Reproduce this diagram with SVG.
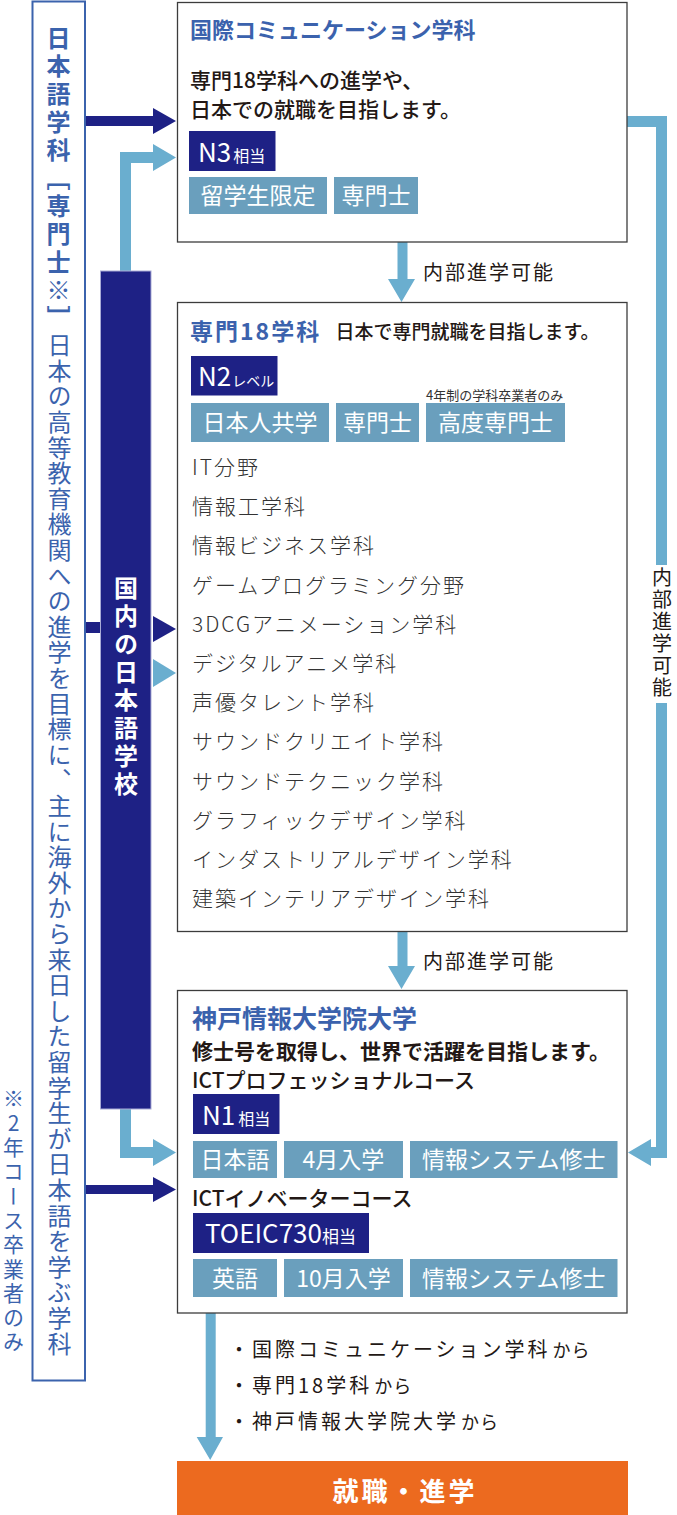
<svg xmlns="http://www.w3.org/2000/svg" width="677" height="1515" viewBox="0 0 677 1515">
<style>
text{font-family:"Noto Sans CJK JP","Noto Sans",sans-serif;}
.box{fill:#fff;stroke:#3c3c3c;stroke-width:1.3;}
.navy{fill:#1e2185;}
.tag{fill:#6a9fbd;}
.lb{fill:#6aaecf;}
.dk{fill:#1e2185;}
.wt{fill:#fff;}
.ttl{fill:#3b62ad;font-weight:bold;}
.body{fill:#231815;}
.item{fill:#333;font-size:21px;letter-spacing:2px;font-weight:300;}
.tagt{fill:#fff;font-size:23px;text-anchor:middle;}
.vert{writing-mode:vertical-rl;}
.lbl{fill:#231815;font-size:20px;letter-spacing:2px;}
</style>
<rect width="677" height="1515" fill="#fff"/>

<g id="connectors">
  <polygon class="dk" points="85,116 153,116 153,108 176,121 153,134 153,126 85,126"/>
  <polygon class="lb" points="120,271 120,152 153,152 153,144 176,157.5 153,171 153,163 131,163 131,271"/>
  <rect class="dk" x="85" y="622" width="16" height="11"/>
  <polygon class="dk" points="153,616 176,629 153,642"/>
  <polygon class="lb" points="153,659 176,673 153,687"/>
  <polygon class="lb" points="120,1109 120,1158 153,1158 153,1166 176,1152.5 153,1139 153,1147 131,1147 131,1109"/>
  <polygon class="dk" points="85,1185 153,1185 153,1177 176,1189.5 153,1202 153,1194 85,1194"/>
  <polygon class="lb" points="397.5,242 407.5,242 407.5,279 415,279 401.5,302 388,279 397.5,279"/>
  <text class="lbl" x="423" y="280">内部進学可能</text>
  <polygon class="lb" points="397.5,932 407.5,932 407.5,966 415,966 401.5,989 388,966 397.5,966"/>
  <text class="lbl" x="423" y="969">内部進学可能</text>
  <polygon class="lb" points="627,116 667,116 667,565 656,565 656,127 627,127"/>
  <polygon class="lb" points="656,703 667,703 667,1158 651,1158 651,1166 628,1152.5 651,1139 651,1147 656,1147"/>
  <text class="lbl vert" x="662" y="567">内部進学可能</text>
  <polygon class="lb" points="205.7,1313 215.7,1313 215.7,1437 223,1437 210.2,1460 196.7,1437 205.7,1437"/>
</g>

<g id="left-box">
  <rect x="32.5" y="1.5" width="52.5" height="1379" fill="#fff" stroke="#3b63ad" stroke-width="2"/>
  <text class="vert" x="58.5" y="26" fill="#3b63ad" font-size="24" font-weight="bold" letter-spacing="4">日本語学科［専門士※］</text>
  <text class="vert" x="59.5" y="333" fill="#3b63ad" font-size="24" letter-spacing="1.6">日本の高等教育機関への進学を目標に、主に海外から来日した留学生が日本語を学ぶ学科</text>
</g>

<g id="note">
  <text class="vert" x="13.5" y="1088" fill="#3b63ad" font-size="21" letter-spacing="3.3" style="text-orientation:upright">※2年コース卒業者のみ</text>
</g>

<g id="domestic-bar">
  <rect x="100.5" y="271" width="50.5" height="838" class="navy" stroke="#a9abd6" stroke-width="1"/>
  <text class="vert wt" x="126" y="576" font-size="24" font-weight="bold" letter-spacing="4">国内の日本語学校</text>
</g>

<g id="box-intl">
  <rect class="box" x="177.5" y="2.5" width="449.5" height="239.5"/>
  <text class="ttl" x="190" y="38" font-size="22">国際コミュニケーション学科</text>
  <text class="body" x="190" y="88" font-size="21" font-weight="500">専門18学科への進学や、</text>
  <text class="body" x="190" y="117" font-size="21" font-weight="500">日本での就職を目指します。</text>
  <rect class="navy" x="189" y="131" width="86.5" height="40"/>
  <text class="wt" x="198" y="162"><tspan font-size="26">N3</tspan><tspan font-size="16" dx="2">相当</tspan></text>
  <rect class="tag" x="189" y="177" width="138" height="37"/>
  <text class="tagt" x="258" y="203.5" font-size="22">留学生限定</text>
  <rect class="tag" x="334" y="177" width="84" height="37"/>
  <text class="tagt" x="376" y="203.5" font-size="22">専門士</text>
</g>

<g id="box-senmon">
  <rect class="box" x="177.5" y="302.5" width="449.5" height="629"/>
  <text class="ttl" x="190" y="340" font-size="23" letter-spacing="2">専門18学科</text>
  <text class="body" x="335.5" y="339" font-size="19" font-weight="500">日本で専門就職を目指します。</text>
  <rect class="navy" x="191" y="356" width="86.5" height="39.5"/>
  <text class="wt" x="198" y="386"><tspan font-size="26">N2</tspan><tspan font-size="14" dx="1">レベル</tspan></text>
  <text x="426" y="399.5" font-size="13" fill="#333">4年制の学科卒業者のみ</text>
  <rect class="tag" x="191" y="403" width="138" height="39"/>
  <text class="tagt" x="260" y="431">日本人共学</text>
  <rect class="tag" x="336" y="403" width="83" height="39"/>
  <text class="tagt" x="377.5" y="431">専門士</text>
  <rect class="tag" x="426" y="403" width="139" height="39"/>
  <text class="tagt" x="495.5" y="431">高度専門士</text>
  <text class="item" x="192" y="475">IT分野</text>
  <text class="item" x="192" y="514.2">情報工学科</text>
  <text class="item" x="192" y="553.4">情報ビジネス学科</text>
  <text class="item" x="192" y="592.6">ゲームプログラミング分野</text>
  <text class="item" x="192" y="631.8">3DCGアニメーション学科</text>
  <text class="item" x="192" y="671">デジタルアニメ学科</text>
  <text class="item" x="192" y="710.2">声優タレント学科</text>
  <text class="item" x="192" y="749.4">サウンドクリエイト学科</text>
  <text class="item" x="192" y="788.6">サウンドテクニック学科</text>
  <text class="item" x="192" y="827.8">グラフィックデザイン学科</text>
  <text class="item" x="192" y="867">インダストリアルデザイン学科</text>
  <text class="item" x="192" y="906.2">建築インテリアデザイン学科</text>
</g>

<g id="box-grad">
  <rect class="box" x="177.5" y="990.5" width="449.5" height="322.5"/>
  <text class="ttl" x="192" y="1028" font-size="25">神戸情報大学院大学</text>
  <text class="body" x="192" y="1059" font-size="21" font-weight="bold">修士号を取得し、世界で活躍を目指します。</text>
  <text class="body" x="192" y="1088" font-size="21" font-weight="500">ICTプロフェッショナルコース</text>
  <rect class="navy" x="193" y="1094" width="86.5" height="40"/>
  <text class="wt" x="202" y="1125"><tspan font-size="26">N1</tspan><tspan font-size="16" dx="3">相当</tspan></text>
  <rect class="tag" x="193" y="1141" width="84" height="37"/>
  <text class="tagt" x="235" y="1168">日本語</text>
  <rect class="tag" x="284" y="1141" width="119" height="37"/>
  <text class="tagt" x="343.5" y="1168">4月入学</text>
  <rect class="tag" x="410" y="1141" width="207.5" height="37"/>
  <text class="tagt" x="513.75" y="1168">情報システム修士</text>
  <text class="body" x="192" y="1206" font-size="21" font-weight="500">ICTイノベーターコース</text>
  <rect class="navy" x="193" y="1213" width="176" height="40"/>
  <text class="wt" x="205" y="1243"><tspan font-size="26">TOEIC730</tspan><tspan font-size="17">相当</tspan></text>
  <rect class="tag" x="193" y="1259" width="84" height="38"/>
  <text class="tagt" x="235" y="1287">英語</text>
  <rect class="tag" x="284" y="1259" width="119" height="38"/>
  <text class="tagt" x="343.5" y="1287">10月入学</text>
  <rect class="tag" x="410" y="1259" width="207.5" height="38"/>
  <text class="tagt" x="513.75" y="1287">情報システム修士</text>
</g>

<g id="sources">
  <text class="body" x="229" y="1357" font-size="20" letter-spacing="3">・国際コミュニケーション学科<tspan font-size="18" letter-spacing="1" dx="2">から</tspan></text>
  <text class="body" x="229" y="1393" font-size="20" letter-spacing="3">・専門18学科<tspan font-size="18" letter-spacing="1" dx="2">から</tspan></text>
  <text class="body" x="229" y="1429" font-size="20" letter-spacing="3">・神戸情報大学院大学<tspan font-size="18" letter-spacing="1" dx="2">から</tspan></text>
</g>

<g id="result">
  <rect x="177" y="1461" width="451" height="54" fill="#ec6a1f"/>
  <text class="wt" x="405" y="1501" font-size="26" font-weight="bold" letter-spacing="3" text-anchor="middle">就職・進学</text>
</g>
</svg>
